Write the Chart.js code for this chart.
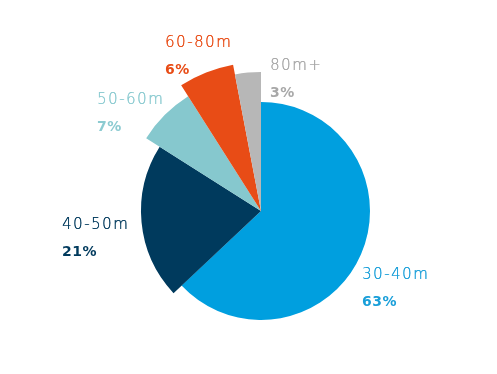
<!DOCTYPE html>
<html>
<head>
<meta charset="utf-8">
<script src="https://cdn.jsdelivr.net/npm/chart.js@4"></script>
<style>
  html, body { margin: 0; padding: 0; background: #fff; }
  #wrap { width: 497px; height: 374px; }
</style>
</head>
<body>
<div id="wrap"><canvas id="sizeChart" width="497" height="374"></canvas></div>
<script>
// chart values
var size_labels = ['30-40m', '40-50m', '50-60m', '60-80m', '80m+'];
var size_values = [63, 21, 7, 6, 3];
var size_colors = ['#009fdf', '#003a5d', '#86c8ce', '#e84c16', '#b7b7b7'];
var text_colors = ['#1a9fd9', '#003a5d', '#8ccbd1', '#e84c16', '#a8a8a8'];

// each slice is drawn with its own radius (px), base radius is 150
var slice_radius = [109, 120, 136, 149, 139];
// where the label text sits (left x, baseline of the name)
var label_pos = [[362, 279], [62, 229], [97, 104], [165, 47], [270, 70]];

var radiusPlugin = {
    id: 'sliceRadius',
    afterDatasetsUpdate: function(chart) {
        var meta = chart.getDatasetMeta(0);
        meta.data.forEach(function(arc, i) {
            arc.outerRadius = arc.outerRadius * slice_radius[i] / 150;
        });
    }
};

var labelPlugin = {
    id: 'sliceLabels',
    afterDraw: function(chart) {
        var ctx = chart.ctx;
        ctx.save();
        ctx.textAlign = 'left';
        ctx.textBaseline = 'alphabetic';
        size_labels.forEach(function(name, i) {
            var p = label_pos[i];
            ctx.fillStyle = text_colors[i];
            ctx.letterSpacing = '1.5px';
            ctx.font = '200 15px "DejaVu Sans"';
            ctx.fillText(name, p[0], p[1]);
            ctx.fillText(name, p[0] + 0.3, p[1]);
            ctx.letterSpacing = '0.5px';
            ctx.font = 'bold 14px "DejaVu Sans"';
            ctx.fillText(size_values[i] + '%', p[0], p[1] + 27);
        });
        ctx.restore();
    }
};

var size_chart = new Chart(document.getElementById('sizeChart'), {
    type: 'pie',
    data: {
        labels: size_labels,
        datasets: [{
            data: size_values,
            backgroundColor: size_colors,
            borderWidth: 0
        }]
    },
    options: {
        responsive: false,
        animation: false,
        events: [],
        layout: { padding: { left: 111, right: 86, top: 61, bottom: 13 } },
        plugins: {
            legend: { display: false },
            tooltip: { enabled: false }
        }
    },
    plugins: [radiusPlugin, labelPlugin]
});
</script>
</body>
</html>
